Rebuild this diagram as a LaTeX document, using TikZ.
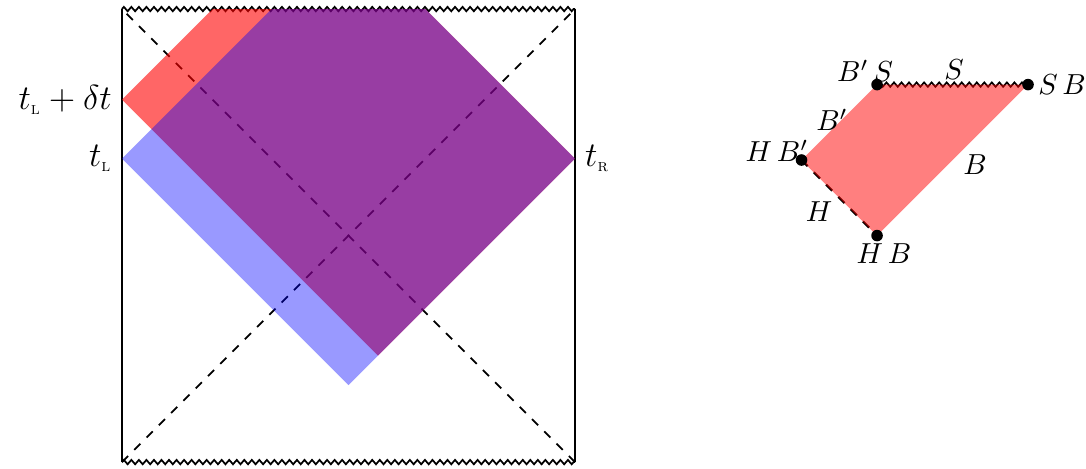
\documentclass[tikz,border=0pt]{standalone}
\usepackage{amsmath}
\usetikzlibrary{decorations.pathmorphing}

\newcommand*{\side}{4}
\newcommand*{\tLeft}{2.68}
\newcommand*{\tLeftShift}{3.2}
\newcommand*{\tRight}{2.68}

\begin{document}
\begin{tikzpicture}
[
	x=1.375cm,
	y=1.375cm,
	sing/.style={semithick,decorate,decoration={zigzag,segment length=2.6pt,amplitude=0.75pt}},
	horizon/.style={semithick,dashed},
	wdw/.style={fill=blue,fill opacity=0.4},
	wdwshift/.style={fill=red,fill opacity=0.6},
	vertexpt/.style={circle,fill,inner sep=0pt,minimum size=4pt},
	tlabel/.style={font=\large}
]

	\useasboundingbox (-1.077,-0.053) rectangle (8.512,4.080);

	% horizons
	\draw[horizon] (0,0) -- (\side,\side);
	\draw[horizon] (\side,0) -- (0,\side);

	% boundaries and singularities
	\draw[thick] (0,0) -- (0,\side);
	\draw[thick] (\side,0) -- (\side,\side);
	\draw[sing] (0,\side) -- (\side,\side);
	\draw[sing] (0,0) -- (\side,0);

	% patches
	\fill[wdwshift] (0,\tLeftShift) -- ({(\side+\tLeftShift-\tRight)/2},{(\tLeftShift+\tRight-\side)/2})
		-- (\side,\tRight) -- (\tRight,\side) -- ({\side-\tLeftShift},\side) -- cycle;
	\fill[wdw] (0,\tLeft) -- ({(\side+\tLeft-\tRight)/2},{(\tLeft+\tRight-\side)/2})
		-- (\side,\tRight) -- (\tRight,\side) -- ({\side-\tLeft},\side) -- cycle;

	\node[tlabel,left] (tLshift) at (0,\tLeftShift) {$t_{\scriptscriptstyle\textsc{l}}+\delta t$};
	\node[tlabel,left] (tL) at (0,\tLeft) {$t_{\scriptscriptstyle\textsc{l}}$};
	\node[tlabel,right] (tR) at (\side,\tRight) {$t_{\scriptscriptstyle\textsc{r}}$};

	% corners of the shifted region
	\coordinate (HBp) at (6,2.667);
	\coordinate (HB) at (6.667,2);
	\coordinate (BpS) at (6.667,3.333);
	\coordinate (SB) at (8,3.333);

	\draw[sing] (BpS) -- (SB);
	\draw[horizon,thick] (HBp) -- (HB);
	\fill[red,fill opacity=0.5] (HBp) -- (BpS) -- (SB) -- (HB) -- cycle;

	\foreach \p in {HBp,HB,BpS,SB}
		\node[vertexpt] (dot\p) at (\p) {};

	\node (lblBpS) at (6.561,3.453) {$B'\,S$};
	\node (lblS) at (7.347,3.461) {$S$};
	\node[right] (lblSB) at (SB) {$S\,B$};
	\node (lblBp) at (6.27,3.02) {$B'$};
	\node (lblB) at (7.532,2.623) {$B$};
	\node (lblHBp) at (5.784,2.746) {$H\,B'$};
	\node (lblH) at (6.155,2.208) {$H$};
	\node (lblHB) at (6.728,1.837) {$H\,B$};

\end{tikzpicture}
\end{document}
